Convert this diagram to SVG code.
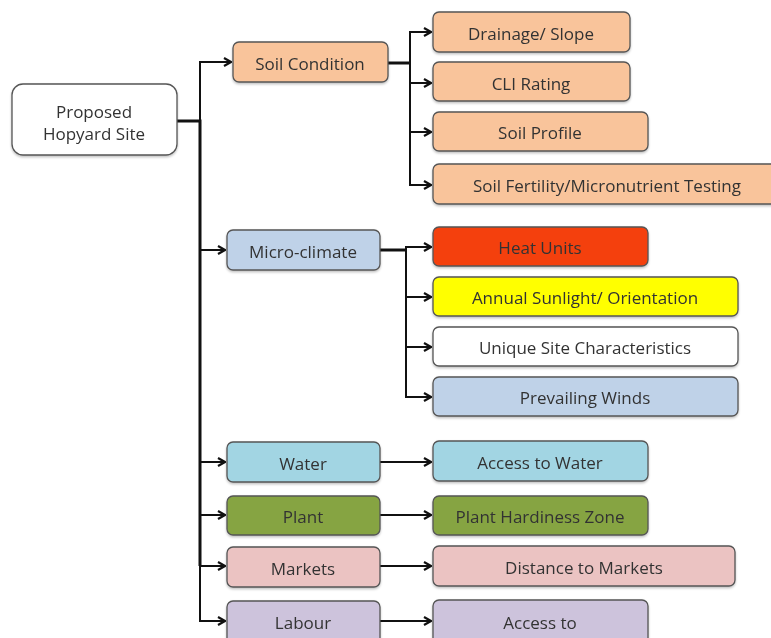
<svg xmlns="http://www.w3.org/2000/svg" width="771" height="638" viewBox="0 0 771 638">
<style>
.box{stroke:#555;stroke-width:1.3}
.t{font-family:"Open Sans","Liberation Sans",Arial,sans-serif;font-size:17px;fill:#333;text-anchor:middle;dominant-baseline:central}
.c{fill:none;stroke:#111;stroke-width:2}
.ct{fill:none;stroke:#111;stroke-width:3}
</style>
<defs>
<marker id="ah" viewBox="0 0 10 10" refX="9" refY="5" markerWidth="10" markerHeight="10" markerUnits="userSpaceOnUse" orient="auto">
<path d="M2,1 L9,5 L2,9" fill="none" stroke="#111" stroke-width="2.2" stroke-linejoin="miter"/>
</marker>
<filter id="sh" x="-10%" y="-10%" width="120%" height="140%">
<feDropShadow dx="0" dy="1.5" stdDeviation="1" flood-color="#000" flood-opacity="0.25"/>
</filter>
</defs>
<rect width="771" height="638" fill="#fff"/>
<g id="connectors">
<path class="ct" d="M177,121 H200 V566"/>
<path class="c" d="M200,121 V62 H231" marker-end="url(#ah)"/>
<path class="c" d="M200,250 H225" marker-end="url(#ah)"/>
<path class="c" d="M200,462 H225" marker-end="url(#ah)"/>
<path class="c" d="M200,515 H225" marker-end="url(#ah)"/>
<path class="c" d="M200,566 H225" marker-end="url(#ah)"/>
<path class="c" d="M200,566 V621 H225" marker-end="url(#ah)"/>
<path class="ct" d="M388,63 H410"/>
<path class="c" d="M410,63 V32 H431" marker-end="url(#ah)"/>
<path class="c" d="M410,63 V185 H431" marker-end="url(#ah)"/>
<path class="c" d="M410,83 H431" marker-end="url(#ah)"/>
<path class="c" d="M410,132 H431" marker-end="url(#ah)"/>
<path class="ct" d="M380,250 H406"/>
<path class="c" d="M406,250 V247 H431" marker-end="url(#ah)"/>
<path class="c" d="M406,250 V397 H431" marker-end="url(#ah)"/>
<path class="c" d="M406,297 H431" marker-end="url(#ah)"/>
<path class="c" d="M406,347 H431" marker-end="url(#ah)"/>
<path class="c" d="M380,462 H431" marker-end="url(#ah)"/>
<path class="c" d="M380,515 H431" marker-end="url(#ah)"/>
<path class="c" d="M380,566 H431" marker-end="url(#ah)"/>
<path class="c" d="M380,621 H431" marker-end="url(#ah)"/>
</g>
<g id="root" filter="url(#sh)"><rect class="box" x="12" y="84" width="165" height="71" rx="11" fill="#fff"/>
<text class="t" x="94" y="111">Proposed</text><text class="t" x="94" y="133">Hopyard Site</text></g>
<g id="soil" filter="url(#sh)"><rect class="box" x="233" y="42" width="155" height="40" rx="6" fill="#F9C49B"/><text class="t" x="310" y="63">Soil Condition</text></g>
<g id="drainage" filter="url(#sh)"><rect class="box" x="433" y="12" width="197" height="40" rx="6" fill="#F9C49B"/><text class="t" x="531" y="33">Drainage/ Slope</text></g>
<g id="cli" filter="url(#sh)"><rect class="box" x="433" y="62" width="197" height="39" rx="6" fill="#F9C49B"/><text class="t" x="531" y="83">CLI Rating</text></g>
<g id="profile" filter="url(#sh)"><rect class="box" x="433" y="112" width="215" height="39" rx="6" fill="#F9C49B"/><text class="t" x="540" y="132">Soil Profile</text></g>
<g id="fertility" filter="url(#sh)"><rect class="box" x="433" y="164" width="345" height="40" rx="6" fill="#F9C49B"/><text class="t" x="607" y="185">Soil Fertility/Micronutrient Testing</text></g>
<g id="micro" filter="url(#sh)"><rect class="box" x="227" y="230" width="153" height="40" rx="6" fill="#BFD2E8"/><text class="t" x="303" y="251">Micro-climate</text></g>
<g id="heat" filter="url(#sh)"><rect class="box" x="433" y="227" width="215" height="39" rx="6" fill="#F4400F"/><text class="t" x="540" y="247">Heat Units</text></g>
<g id="sun" filter="url(#sh)"><rect class="box" x="433" y="277" width="305" height="39" rx="6" fill="#FFFF00"/><text class="t" x="585" y="297">Annual Sunlight/ Orientation</text></g>
<g id="unique" filter="url(#sh)"><rect class="box" x="433" y="327" width="305" height="39" rx="6" fill="#fff"/><text class="t" x="585" y="347">Unique Site Characteristics</text></g>
<g id="winds" filter="url(#sh)"><rect class="box" x="433" y="377" width="305" height="39" rx="6" fill="#BFD2E8"/><text class="t" x="585" y="397">Prevailing Winds</text></g>
<g id="water" filter="url(#sh)"><rect class="box" x="227" y="442" width="153" height="40" rx="6" fill="#A2D5E3"/><text class="t" x="303" y="463">Water</text></g>
<g id="accesswater" filter="url(#sh)"><rect class="box" x="433" y="441" width="215" height="40" rx="6" fill="#A2D5E3"/><text class="t" x="540" y="462">Access to Water</text></g>
<g id="plant" filter="url(#sh)"><rect class="box" x="227" y="496" width="153" height="39" rx="6" fill="#86A443"/><text class="t" x="303" y="516">Plant</text></g>
<g id="hardiness" filter="url(#sh)"><rect class="box" x="433" y="496" width="215" height="39" rx="6" fill="#86A443"/><text class="t" x="540" y="516">Plant Hardiness Zone</text></g>
<g id="markets" filter="url(#sh)"><rect class="box" x="227" y="547" width="153" height="40" rx="6" fill="#EBC3C2"/><text class="t" x="303" y="568">Markets</text></g>
<g id="distance" filter="url(#sh)"><rect class="box" x="433" y="546" width="302" height="40" rx="6" fill="#EBC3C2"/><text class="t" x="584" y="567">Distance to Markets</text></g>
<g id="labour" filter="url(#sh)"><rect class="box" x="227" y="601" width="153" height="45" rx="6" fill="#CDC3DC"/><text class="t" x="303" y="622">Labour</text></g>
<g id="accessto" filter="url(#sh)"><rect class="box" x="433" y="600" width="215" height="46" rx="6" fill="#CDC3DC"/><text class="t" x="540" y="622">Access to</text></g>
</svg>
